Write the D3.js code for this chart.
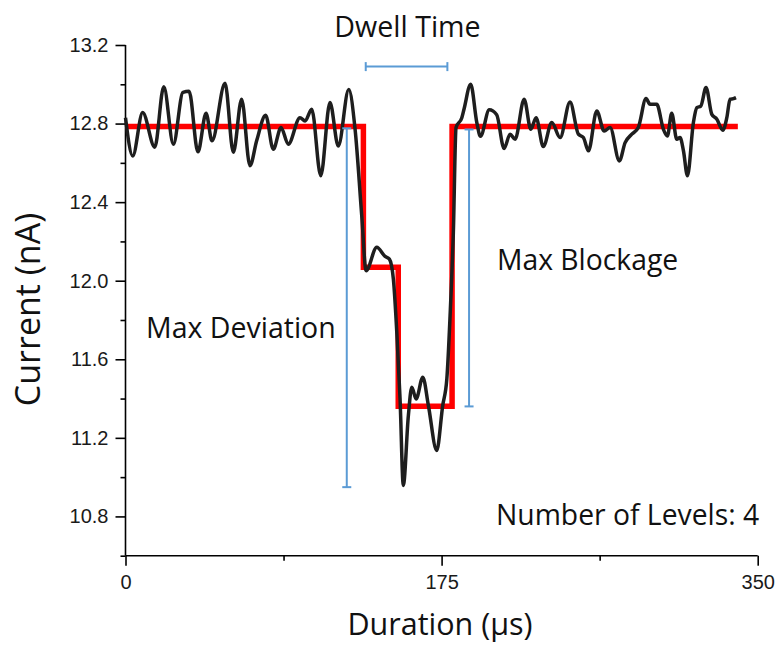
<!DOCTYPE html>
<html>
<head>
<meta charset="utf-8">
<script src="https://cdn.jsdelivr.net/npm/d3@7"></script>
<style>
  html, body { margin: 0; padding: 0; background: #fff; }
  svg { display: block; }
</style>
</head>
<body>
<svg id="chart" width="778" height="645"></svg>
<script>
// ---- data ----
const traceTime = [0, 4.0, 9.5, 16.2, 21.2, 26.5, 31.8, 35.2, 40.1, 44.6, 47.9, 55.1, 59.7, 64.3, 68.9, 72.6, 77.6, 81.8, 86.1, 90.1, 96.6, 99.4, 103.1, 108.1, 113.2, 117.8, 123.6, 127.1, 130.8, 133.2, 139.1, 143.7, 146.1, 148.3, 150.2, 152.0, 153.8, 156.6, 158.5, 160.9, 164.6, 167.7, 172.3, 175.6, 177.9, 179.7, 181.5, 183.0, 186.2, 187.4, 191.1, 194.5, 196.5, 201.4, 205.5, 209.6, 212.9, 215.7, 220.7, 224.4, 227.3, 231.3, 236.0, 240.6, 246.1, 250.7, 253.5, 256.3, 260.9, 265.0, 268.3, 273.4, 276.6, 280.3, 283.9, 288.2, 290.4, 294.1, 297.8, 300.0, 302.4, 305.2, 307.0, 308.9, 311.1, 314.4, 316.3, 318.5, 321.4, 324.6, 327.4, 330.7, 332.9, 334.7, 336.6, 338.0];
const traceCurrent = [12.83, 12.635, 12.856, 12.68, 12.988, 12.695, 12.959, 12.964, 12.656, 12.852, 12.712, 13.005, 12.654, 12.924, 12.585, 12.712, 12.842, 12.669, 12.78, 12.695, 12.83, 12.813, 12.873, 12.534, 12.907, 12.686, 12.973, 12.771, 12.33, 12.051, 12.17, 12.124, 12.11, 12.008, 11.737, 11.398, 10.958, 11.313, 11.458, 11.398, 11.509, 11.364, 11.136, 11.364, 11.5, 11.822, 12.246, 12.78, 12.83, 12.873, 13.0, 12.805, 12.735, 12.87, 12.845, 12.673, 12.746, 12.72, 12.924, 12.771, 12.83, 12.683, 12.805, 12.729, 12.91, 12.746, 12.729, 12.661, 12.864, 12.762, 12.78, 12.61, 12.703, 12.746, 12.78, 12.927, 12.898, 12.898, 12.771, 12.737, 12.852, 12.72, 12.729, 12.661, 12.534, 12.805, 12.881, 12.889, 12.983, 12.847, 12.822, 12.766, 12.83, 12.924, 12.927, 12.932];

const levelTime = [0, 131.7, 151.0, 180.8, 339.0];
const levelCurrent = [12.785, 12.068, 11.361, 12.785, 12.785];

const dwellTime = [133.0, 178.2];       // µs
const dwellLevel = 13.09;               // nA
const maxDeviationTime = 122.5;
const maxDeviationRange = [12.776, 10.949];
const maxBlockageTime = 190.2;
const maxBlockageRange = [12.77, 11.36];

const xDomain = [0, 350];
const yDomain = [10.6, 13.2];
const xMajorTicks = [0, 175, 350];
const xTickLabels = ["0", "175", "350"];
const xMinorTicks = [87.5, 262.5];
const yMajorTicks = [10.8, 11.2, 11.6, 12.0, 12.4, 12.8, 13.2];
const yTickLabels = ["10.8", "11.2", "11.6", "12.0", "12.4", "12.8", "13.2"];
const yMinorTicks = [10.6, 11.0, 11.4, 11.8, 12.2, 12.6, 13.0];

const xTitle = "Duration (µs)";
const yTitle = "Current (nA)";

// ---- layout ----
const svg = d3.select("#chart");
const plotLeft = 125.5, plotRight = 757.7, plotTop = 45, plotBottom = 555.7;
const x = d3.scaleLinear().domain(xDomain).range([plotLeft, plotRight]);
const y = d3.scaleLinear().domain(yDomain).range([plotBottom, plotTop]);

const blue = "#5b9bd5";
const tickFont = "'Liberation Sans', Arial, sans-serif";
const textFont = "'Open Sans', 'Noto Sans', sans-serif";

// ---- axes ----
const yAxisMajor = d3.axisLeft(y).tickValues(yMajorTicks)
  .tickFormat((d, i) => yTickLabels[i]).tickSize(10).tickPadding(7);
const yAxisMinor = d3.axisLeft(y).tickValues(yMinorTicks).tickFormat("").tickSize(5);
const xAxisMajor = d3.axisBottom(x).tickValues(xMajorTicks)
  .tickFormat((d, i) => xTickLabels[i]).tickSize(10).tickPadding(9);
const xAxisMinor = d3.axisBottom(x).tickValues(xMinorTicks).tickFormat("").tickSize(5);

function styleAxis(g) {
  g.select(".domain").attr("stroke", "#000").attr("stroke-width", 1.6);
  g.selectAll(".tick line").attr("stroke", "#000").attr("stroke-width", 1.6);
  g.selectAll(".tick text").attr("fill", "#1a1a1a").style("font-family", tickFont).style("font-size", "20px");
}

const gy = svg.append("g").attr("transform", `translate(${plotLeft},0)`);
gy.call(yAxisMajor).call(styleAxis);
const gym = svg.append("g").attr("transform", `translate(${plotLeft},0)`);
gym.call(yAxisMinor).call(styleAxis);
gym.select(".domain").remove();

const gx = svg.append("g").attr("transform", `translate(0,${plotBottom})`);
gx.call(xAxisMajor).call(styleAxis);
const gxm = svg.append("g").attr("transform", `translate(0,${plotBottom})`);
gxm.call(xAxisMinor).call(styleAxis);
gxm.select(".domain").remove();
gy.select(".domain").attr("d", `M0,${plotTop}V${plotBottom}`);
gx.select(".domain").attr("d", `M${plotLeft},0H${plotRight}`);

// ---- level (red step) line ----
const levelData = levelTime.map((t, i) => [t, levelCurrent[i]]);
svg.append("path")
  .datum(levelData)
  .attr("fill", "none")
  .attr("stroke", "#ff0000")
  .attr("stroke-width", 5.5)
  .attr("stroke-linejoin", "miter")
  .attr("d", d3.line().x(d => x(d[0])).y(d => y(d[1])).curve(d3.curveStepAfter));

// ---- current trace ----
const traceData = traceTime.map((t, i) => [t, traceCurrent[i]]);
svg.append("path")
  .datum(traceData)
  .attr("fill", "none")
  .attr("stroke", "#1e1e1e")
  .attr("stroke-width", 3.5)
  .attr("stroke-linejoin", "round")
  .attr("d", d3.line().x(d => x(d[0])).y(d => y(d[1])).curve(d3.curveMonotoneX));

// ---- blue annotation bars ----
const cap = 4.5;
const ann = svg.append("g").attr("stroke", blue).attr("stroke-width", 2).attr("fill", "none");
ann.append("line").attr("x1", x(dwellTime[0])).attr("x2", x(dwellTime[1]))
  .attr("y1", y(dwellLevel)).attr("y2", y(dwellLevel));
dwellTime.forEach(t => ann.append("line").attr("x1", x(t)).attr("x2", x(t))
  .attr("y1", y(dwellLevel) - cap).attr("y2", y(dwellLevel) + cap));
function vbar(t, range) {
  ann.append("line").attr("x1", x(t)).attr("x2", x(t)).attr("y1", y(range[0])).attr("y2", y(range[1]));
  range.forEach(v => ann.append("line").attr("x1", x(t) - cap).attr("x2", x(t) + cap)
    .attr("y1", y(v)).attr("y2", y(v)));
}
vbar(maxDeviationTime, maxDeviationRange);
vbar(maxBlockageTime, maxBlockageRange);

// ---- text ----
function label(txt, px, py, size, anchor) {
  return svg.append("text").attr("x", px).attr("y", py).attr("text-anchor", anchor || "start")
    .style("font-family", textFont).style("font-size", size + "px").attr("fill", "#111").text(txt);
}
label("Dwell Time", 407.5, 37, 28.6, "middle");
label("Max Deviation", 146, 338, 28.5);
label("Max Blockage", 497, 270, 28.3);
label("Number of Levels: 4", 496, 525, 28.3);
label(xTitle, 440, 635, 30.5, "middle");
svg.append("text")
  .attr("transform", `translate(40,309.5) rotate(-90)`)
  .attr("text-anchor", "middle")
  .style("font-family", textFont).style("font-size", "34px").attr("fill", "#111")
  .text(yTitle);
</script>
</body>
</html>
